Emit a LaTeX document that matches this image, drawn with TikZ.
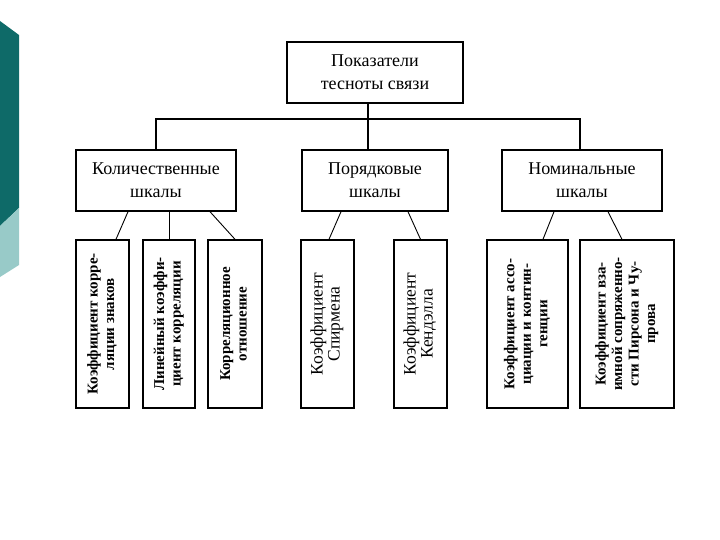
\documentclass[tikz,border=0pt]{standalone}
\usepackage{fontspec}
\setmainfont{Liberation Serif}
\usepackage{tikz}
\usetikzlibrary{calc}
\tikzset{>=stealth}
\definecolor{tealdark}{RGB}{14,106,104}
\definecolor{teallight}{RGB}{152,202,200}
\tikzset{
  headbox/.style={draw,line width=1.4pt,minimum width=#1,minimum height=61pt,
    inner sep=0pt,align=center,font=\fontsize{18}{23}\selectfont},
  coefbox/.style={draw,line width=1.4pt,minimum width=#1,minimum height=168pt,inner sep=0pt},
  trunk/.style={line width=1.7pt},
  twig/.style={line width=0.9pt}
}
\newcommand{\vtext}[1]{\rotatebox{90}{\fontsize{15}{16.5}\selectfont\bfseries
  \begin{tabular}{@{}c@{}}#1\end{tabular}}}
\newcommand{\vtextmd}[1]{\rotatebox{90}{\fontsize{17.5}{17}\selectfont
  \begin{tabular}{@{}c@{}}#1\end{tabular}}}

\begin{document}
\begin{tikzpicture}[x=1pt,y=-1pt]
\useasboundingbox (0,0) rectangle (720,540);
% side band
\fill[tealdark]  (0,21) -- (19,35) -- (19,208) -- (0,226) -- cycle;
\fill[teallight] (0,226) -- (19,208) -- (19,265) -- (0,277) -- cycle;

\node (title)   [headbox=176pt] at (375,72.5)  {Показатели\\тесноты связи};
\node (quant)   [headbox=160pt] at (156,180.5) {Количественные\\шкалы};
\node (ordinal) [headbox=146pt] at (375,180.5) {Порядковые\\шкалы};
\node (nominal) [headbox=160pt] at (582,180.5) {Номинальные\\шкалы};

\node (k1) [coefbox=53pt] at (102.5,324) {\vtext{Коэффициент корре-\\ляции знаков}};
\node (k2) [coefbox=52pt] at (169,324)   {\vtext{Линейный коэффи-\\циент корреляции}};
\node (k3) [coefbox=54pt] at (235,324)   {\vtext{Корреляционное\\отношение}};
\node (k4) [coefbox=53pt] at (327.5,324) {\vtextmd{Коэффициент\\Спирмена}};
\node (k5) [coefbox=53pt] at (420.5,324) {\vtextmd{Коэффициент\\Кендэлла}};
\node (k6) [coefbox=81pt] at (527.5,324) {\vtext{Коэффициент ассо-\\циации и контин-\\генции}};
\node (k7) [coefbox=94pt] at (627,324)   {\vtext{Коэффициент вза-\\имной сопряженно-\\сти Пирсона и Чу-\\прова}};

% main fork
\coordinate (fork) at (368,119);
\draw[trunk] ([xshift=-7pt]title.south) -- ([xshift=-7pt]ordinal.north);
\draw[trunk] (quant.north) |- (fork) -| ([xshift=-2pt]nominal.north);

% branches to coefficients
\draw[twig] ($(quant.south)+(-28,0)$) -- ($(k1.north)+(13.5,0)$);
\draw[twig] (k2.north |- quant.south) -- (k2.north);
\draw[twig] ($(quant.south)+(54,0)$) -- (k3.north);
\draw[twig] ($(ordinal.south)+(-34,0)$) -- ($(k4.north)+(1.5,0)$);
\draw[twig] ($(ordinal.south)+(33,0)$) -- (k5.north);
\draw[twig] ($(nominal.south)+(-28,0)$) -- ($(k6.north)+(15.5,0)$);
\draw[twig] ($(nominal.south)+(26,0)$) -- ($(k7.north)+(-5,0)$);
\end{tikzpicture}
\end{document}
